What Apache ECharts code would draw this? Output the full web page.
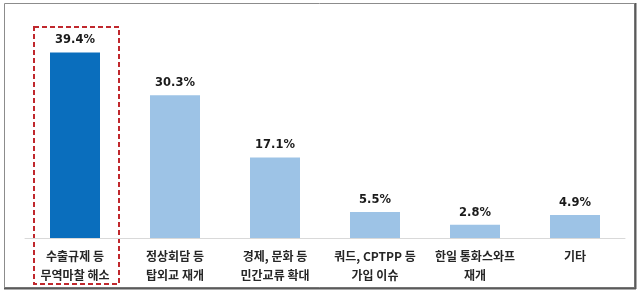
<!DOCTYPE html>
<html><head><meta charset="utf-8">
<script src="https://cdn.jsdelivr.net/npm/echarts@6/dist/echarts.min.js"></script>
<style>html,body{margin:0;padding:0;background:#fff}#c{width:639px;height:295px}</style>
</head><body><div id="c"></div>
<script>
const categories = ['수출규제 등\n무역마찰 해소','정상회담 등\n탑외교 재개','경제, 문화 등\n민간교류 확대','쿼드, CPTPP 등\n가입 이슈','한일 통화스와프\n재개','기타'];
const values = [39.4, 30.3, 17.1, 5.5, 2.8, 4.9];
const highlightIndex = 0;

const chart = echarts.init(document.getElementById('c'), null, {renderer:'canvas'});
const font = '"Noto Sans CJK KR","Noto Sans",sans-serif';
chart.setOption({
  animation:false,
  backgroundColor:'#fff',
  grid:{left:25,right:14,top:26,bottom:57},
  xAxis:{type:'category',data:categories,
    axisLine:{lineStyle:{color:'#d9d9d9',width:1}},axisTick:{show:false},
    axisLabel:{interval:0,margin:9,fontSize:12,fontWeight:'bold',color:'#262626',lineHeight:19,fontFamily:font}},
  yAxis:{type:'value',min:0,max:45,show:false,splitLine:{show:false}},
  series:[{type:'bar',barWidth:50,
    data:values.map((v,i)=>({value:v,itemStyle:{color:i===highlightIndex?'#0a6ebd':'#9dc3e6'}})),
    label:{show:true,position:'top',distance:6,formatter:p=>p.value.toFixed(1)+'%',
      fontSize:11.5,fontWeight:'bold',color:'#1a1a1a',fontFamily:'"DejaVu Sans",Verdana,sans-serif'}}]
});
const c0 = chart.convertToPixel({xAxisIndex:0},categories[highlightIndex]);
chart.setOption({graphic:[
  {type:'rect',shape:{x:4.5,y:3.5,width:630,height:284},style:{fill:'none',stroke:'#8c8c8c',lineWidth:1},silent:true},
  {type:'line',shape:{x1:635.5,y1:3,x2:635.5,y2:289},style:{stroke:'#5a5a5a',lineWidth:2},silent:true},
  {type:'line',shape:{x1:4,y1:288.5,x2:636,y2:288.5},style:{stroke:'#5a5a5a',lineWidth:2},silent:true},
  {type:'rect',shape:{x:c0-41,y:27,width:85,height:257},style:{fill:'none',stroke:'#c0282d',lineWidth:2,lineDash:[5,3]},silent:true}
]});
</script></body></html>
